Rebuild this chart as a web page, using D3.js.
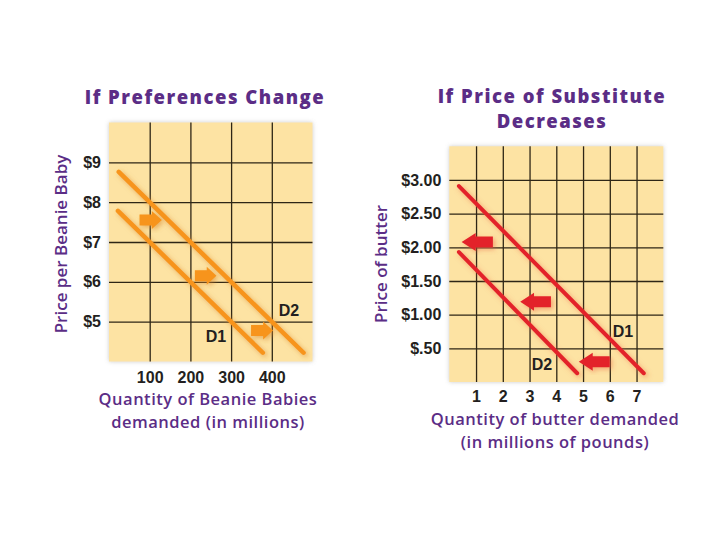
<!DOCTYPE html>
<html>
<head>
<meta charset="utf-8">
<script src="https://cdn.jsdelivr.net/npm/d3@7"></script>
<style>
  html, body { margin: 0; padding: 0; background: #ffffff; }
  svg { display: block; }
</style>
</head>
<body>
<svg id="chart" width="720" height="540"></svg>
<script>
// ---------- Data: left chart (Beanie Babies) ----------
const leftXTicks = [100, 200, 300, 400];
const leftYTicks = [5, 6, 7, 8, 9];
const leftYLabels = ["$5", "$6", "$7", "$8", "$9"];
const leftD1 = [[22, 7.78], [378, 4.22]];
const leftD2 = [[24, 8.76], [478, 4.22]];
// arrows: [tail x, head x, y]
const leftArrows = [[75, 130, 7.55], [211, 264, 6.15], [349, 403, 4.78]];

// ---------- Data: right chart (butter) ----------
const rightXTicks = [1, 2, 3, 4, 5, 6, 7];
const rightYTicks = [0.5, 1.0, 1.5, 2.0, 2.5, 3.0];
const rightYLabels = ["$.50", "$1.00", "$1.50", "$2.00", "$2.50", "$3.00"];
const rightD1 = [[0.36, 2.91], [7.27, 0.13]];
const rightD2 = [[0.36, 1.93], [4.78, 0.13]];
const rightArrows = [[1.63, 0.46, 2.08], [3.80, 2.65, 1.19], [6.00, 4.84, 0.30]];

const svg = d3.select("#chart");
const defs = svg.append("defs");

function addShadow(id, color, op, dx, dy, sd) {
  defs.append("filter").attr("id", id)
    .attr("x", "-20%").attr("y", "-20%").attr("width", "140%").attr("height", "140%")
    .append("feDropShadow")
    .attr("dx", dx).attr("dy", dy).attr("stdDeviation", sd)
    .attr("flood-color", color).attr("flood-opacity", op);
}
addShadow("panelShadow", "#888", 0.45, 0, 0, 2);
addShadow("orangeGlow", "#d9892a", 0.6, 2, 2, 2.5);
addShadow("redGlow", "#e8603a", 0.5, 2, 2, 2.5);

const PURPLE = "#5b2d86";
const INK = "#231f20";
const PANEL = "#fde3a3";
const GRID = "#2e2616";

function drawChart(cfg) {
  const x = d3.scaleLinear().domain(cfg.xDomain).range(cfg.xRange);
  const y = d3.scaleLinear().domain(cfg.yDomain).range(cfg.yRange);
  const g = svg.append("g");
  const x0 = cfg.xRange[0], x1 = cfg.xRange[1];
  const yTop = cfg.yRange[1], yBot = cfg.yRange[0];

  // title
  const t = g.append("text")
    .attr("x", cfg.titleX).attr("y", cfg.titleY)
    .attr("text-anchor", "middle")
    .attr("font-family", "'Open Sans', sans-serif")
    .attr("font-weight", 800)
    .attr("font-size", 18.5)
    .attr("letter-spacing", 1.5)
    .attr("fill", PURPLE);
  cfg.title.forEach((line, i) => {
    t.append("tspan").attr("x", cfg.titleX).attr("dy", i === 0 ? 0 : 25.5).text(line);
  });

  // panel
  g.append("rect")
    .attr("x", x0).attr("y", yTop)
    .attr("width", x1 - x0).attr("height", yBot - yTop)
    .attr("fill", PANEL)
    .attr("filter", "url(#panelShadow)");

  // grid via axes
  const gx = g.append("g").attr("transform", `translate(0,${yBot})`)
    .call(d3.axisBottom(x).tickValues(cfg.xTicks).tickSize(-(yBot - yTop)).tickFormat(""));
  const gy = g.append("g").attr("transform", `translate(${x0},0)`)
    .call(d3.axisLeft(y).tickValues(cfg.yTicks).tickSize(-(x1 - x0)).tickFormat(""));
  [gx, gy].forEach(a => {
    a.select(".domain").remove();
    a.selectAll(".tick line").attr("stroke", GRID).attr("stroke-width", 1.3);
  });

  // tick labels
  const lx = g.append("g").attr("transform", `translate(0,${yBot})`)
    .call(d3.axisBottom(x).tickValues(cfg.xTicks).tickSize(0).tickPadding(cfg.xPad).tickFormat(d3.format("d")));
  const ly = g.append("g").attr("transform", `translate(${x0},0)`)
    .call(d3.axisLeft(y).tickValues(cfg.yTicks).tickSize(0).tickPadding(8)
      .tickFormat((d, i) => cfg.yLabels[i]));
  [lx, ly].forEach(a => {
    a.select(".domain").remove();
    a.selectAll("text")
      .attr("font-family", "'Liberation Sans', Arial, sans-serif")
      .attr("font-weight", 700).attr("font-size", 16).attr("fill", INK);
  });

  // demand lines
  const line = d3.line().x(d => x(d[0])).y(d => y(d[1]));
  [cfg.d1, cfg.d2].forEach(d => {
    g.append("path").attr("d", line(d))
      .attr("fill", "none").attr("stroke", cfg.color)
      .attr("stroke-width", cfg.lineWidth).attr("stroke-linecap", "round")
      .attr("filter", cfg.glow);
  });

  // block arrows
  const H = 18, S = 11;
  cfg.arrows.forEach(a => {
    const xt = x(a[0]), xh = x(a[1]), yc = y(a[2]);
    const dir = Math.sign(xh - xt);
    const L = Math.abs(xh - xt);
    const xb = xh - dir * L * 0.45;
    const p = d3.path();
    p.moveTo(xt, yc - S / 2);
    p.lineTo(xb, yc - S / 2);
    p.lineTo(xb, yc - H / 2);
    p.lineTo(xh, yc);
    p.lineTo(xb, yc + H / 2);
    p.lineTo(xb, yc + S / 2);
    p.lineTo(xt, yc + S / 2);
    p.closePath();
    g.append("path").attr("d", p.toString()).attr("fill", cfg.color).attr("filter", cfg.glow);
  });

  // curve labels
  cfg.curveLabels.forEach(c => {
    g.append("text").attr("x", c.x).attr("y", c.y)
      .attr("text-anchor", "middle")
      .attr("font-family", "'Liberation Sans', Arial, sans-serif")
      .attr("font-weight", 700).attr("font-size", 16).attr("fill", INK)
      .text(c.text);
  });

  // x-axis title
  const xt = g.append("text")
    .attr("x", cfg.xTitleX).attr("y", cfg.xTitleY)
    .attr("text-anchor", "middle")
    .attr("font-family", "'Open Sans', sans-serif")
    .attr("font-weight", 600).attr("font-size", 16.5)
    .attr("letter-spacing", 0.5).attr("fill", PURPLE);
  cfg.xTitle.forEach((line, i) => {
    xt.append("tspan").attr("x", cfg.xTitleX).attr("dy", i === 0 ? 0 : 23).text(line);
  });

  // y-axis title
  g.append("text")
    .attr("transform", `translate(${cfg.yTitleX},${cfg.yTitleY}) rotate(-90)`)
    .attr("text-anchor", "middle")
    .attr("font-family", "'Open Sans', sans-serif")
    .attr("font-weight", 600).attr("font-size", 17).attr("fill", PURPLE)
    .text(cfg.yTitle);
}

drawChart({
  title: ["If Preferences Change"], titleX: 205, titleY: 103.5,
  xDomain: [0, 500], xRange: [109, 312.5],
  yDomain: [4, 10], yRange: [361.5, 122.5],
  xTicks: leftXTicks, yTicks: leftYTicks, yLabels: leftYLabels, xPad: 10,
  d1: leftD1, d2: leftD2, arrows: leftArrows,
  color: "#f7941d", lineWidth: 4.5, glow: "url(#orangeGlow)",
  curveLabels: [{ text: "D1", x: 216, y: 342 }, { text: "D2", x: 289, y: 316 }],
  xTitle: ["Quantity of Beanie Babies", "demanded (in millions)"], xTitleX: 208, xTitleY: 405,
  yTitle: "Price per Beanie Baby", yTitleX: 67, yTitleY: 244
});

drawChart({
  title: ["If Price of Substitute", "Decreases"], titleX: 552, titleY: 102.5,
  xDomain: [0, 8], xRange: [449.3, 663.3],
  yDomain: [0, 3.5], yRange: [382, 146.3],
  xTicks: rightXTicks, yTicks: rightYTicks, yLabels: rightYLabels, xPad: 9,
  d1: rightD1, d2: rightD2, arrows: rightArrows,
  color: "#e3242b", lineWidth: 4, glow: "url(#redGlow)",
  curveLabels: [{ text: "D1", x: 623, y: 337 }, { text: "D2", x: 542, y: 370 }],
  xTitle: ["Quantity of butter demanded", "(in millions of pounds)"], xTitleX: 555, xTitleY: 424.5,
  yTitle: "Price of butter", yTitleX: 387, yTitleY: 264
});
</script>
</body>
</html>
